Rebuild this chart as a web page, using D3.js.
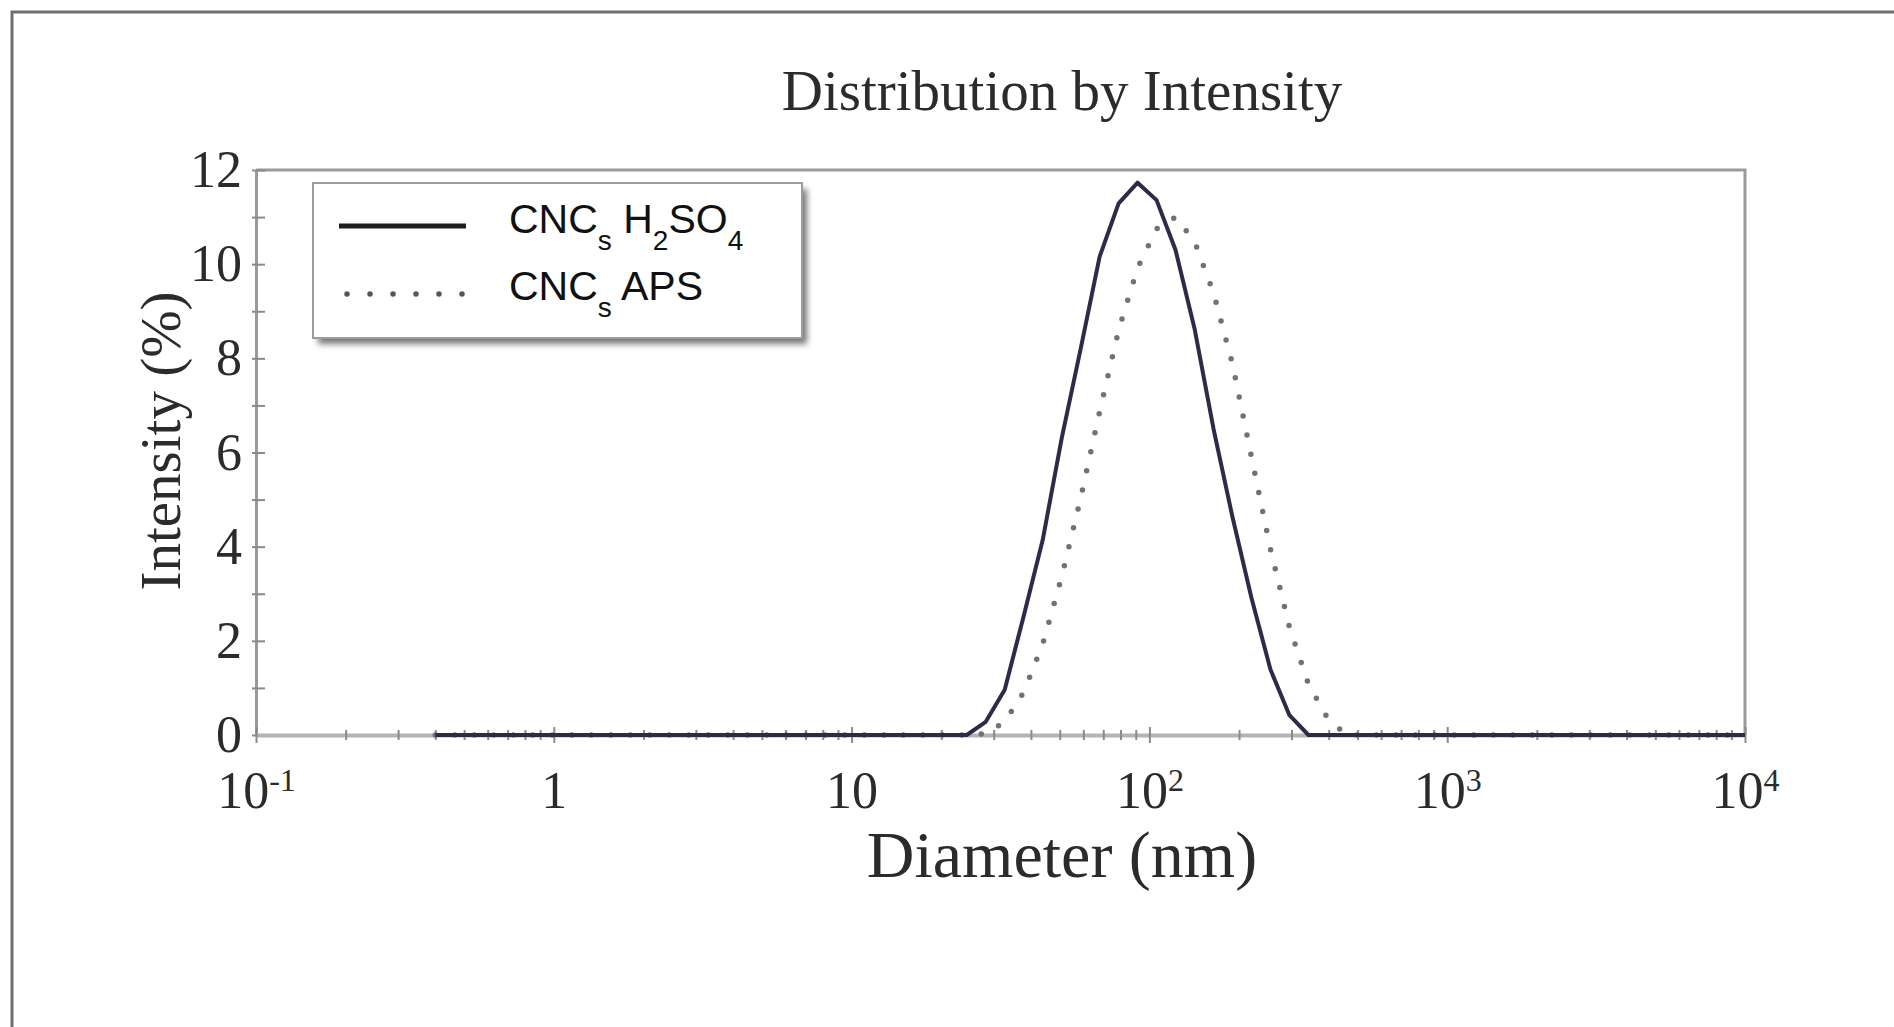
<!DOCTYPE html>
<html>
<head>
<meta charset="utf-8">
<script src="https://cdn.jsdelivr.net/npm/d3@7"></script>
<style>
  body { margin: 0; background: #fff; }
</style>
</head>
<body>
<div id="chart"></div>
<script>
// size distribution by intensity (DLS) for two CNC samples

// size classes of the instrument (nm)
const sizeClasses = [0.4, 0.4632, 0.5365, 0.6213, 0.7195, 0.8332, 0.9649, 1.117, 1.294, 1.499,
  1.736, 2.010, 2.328, 2.696, 3.122, 3.615, 4.187, 4.849, 5.615, 6.503,
  7.531, 8.721, 10.10, 11.70, 13.54, 15.69, 18.17, 21.04, 24.36, 28.21,
  32.67, 37.84, 43.82, 50.75, 58.77, 68.06, 78.82, 91.28, 105.7, 122.4,
  141.8, 164.2, 190.1, 220.2, 255.0, 295.3, 342.0, 396.1, 458.7, 531.2,
  615.1, 712.4, 825.0, 955.4, 1106, 1281, 1484, 1718, 1990, 2305,
  2669, 3091, 3580, 4145, 4801, 5560, 6439, 7456, 8635, 10000];

// intensity (%)
const intensityH2SO4 = [0, 0, 0, 0, 0, 0, 0, 0, 0, 0,
  0, 0, 0, 0, 0, 0, 0, 0, 0, 0,
  0, 0, 0, 0, 0, 0, 0, 0, 0, 0.28,
  0.96, 2.53, 4.14, 6.30, 8.20, 10.16, 11.29, 11.73, 11.36, 10.30,
  8.63, 6.50, 4.63, 2.91, 1.39, 0.42, 0, 0, 0, 0,
  0, 0, 0, 0, 0, 0, 0, 0, 0, 0,
  0, 0, 0, 0, 0, 0, 0, 0, 0, 0];

const intensityAPS = [0, 0, 0, 0, 0, 0, 0, 0, 0, 0,
  0, 0, 0, 0, 0, 0, 0, 0, 0, 0,
  0, 0, 0, 0, 0, 0, 0, 0, 0, 0.03,
  0.28, 0.91, 1.93, 3.36, 5.03, 6.87, 8.60, 9.92, 10.75, 11.00,
  10.48, 9.39, 7.88, 5.90, 3.95, 2.29, 1.08, 0.36, 0, 0,
  0, 0, 0, 0, 0, 0, 0, 0, 0, 0,
  0, 0, 0, 0, 0, 0, 0, 0, 0, 0];

// axis ticks
const xTickValues = [0.1, 1, 10, 100, 1000, 10000];
const xTickBase = ["10", "1", "10", "10", "10", "10"];
const xTickExp = ["-1", "", "", "2", "3", "4"];
const yTickValues = [0, 1, 2, 3, 4, 5, 6, 7, 8, 9, 10, 11, 12];

// legend labels, split in [text, subscript?]
const legendH2SO4 = [["CNC", false], ["s", true], [" H", false], ["2", true], ["SO", false], ["4", true]];
const legendAPS = [["CNC", false], ["s", true], [" APS", false]];

// sizes
const W = 1894, H = 1027;
const plot = {left: 256, right: 1745, top: 170, bottom: 735};
const serif = "'Liberation Serif', 'Times New Roman', serif";
const sans = "'Liberation Sans', Arial, sans-serif";
const gridGrey = "#9a9a9a";
const curveColor = "#2c2c48";
const dotColor = "#727272";

// scales
const x = d3.scaleLog()
  .domain([0.1, 10000])
  .range([plot.left, plot.right]);

const y = d3.scaleLinear()
  .domain([0, 12])
  .range([plot.bottom, plot.top]);

const svg = d3.select("#chart")
  .append("svg")
  .attr("width", W)
  .attr("height", H);

// blur for legend shadow
const defs = svg.append("defs");
defs.append("filter")
    .attr("id", "shadow")
    .attr("x", "-10%").attr("y", "-10%")
    .attr("width", "130%").attr("height", "140%")
  .append("feGaussianBlur")
    .attr("stdDeviation", 3);

// outer frame of the picture
svg.append("path")
  .attr("d", `M12,${H} V12 H${W}`)
  .attr("fill", "none")
  .attr("stroke", "#6e6e6e")
  .attr("stroke-width", 3);

// title
svg.append("text")
  .attr("x", 1062)
  .attr("y", 110)
  .attr("text-anchor", "middle")
  .style("font-family", serif)
  .style("font-size", "57px")
  .style("fill", "#2b2b2b")
  .text("Distribution by Intensity");

// top and right frame of the plot
svg.append("path")
  .attr("d", `M${plot.left},${y(12)} H${x(10000)} V${y(0)}`)
  .attr("fill", "none")
  .attr("stroke", gridGrey)
  .attr("stroke-width", 3);

// y axis
svg.append("g")
  .attr("class", "axis")
  .attr("transform", `translate(${plot.left},0)`)
  .call(d3.axisLeft(y).tickValues(yTickValues).tickSize(0).tickSizeOuter(0).tickPadding(14)
        .tickFormat(d => d % 2 === 0 ? d : ""))
  .call(g => g.select(".domain").attr("stroke", gridGrey).attr("stroke-width", 3))
  .call(g => g.selectAll(".tick line").attr("x1", -4).attr("x2", 9)
        .attr("stroke", "#8a8a8a").attr("stroke-width", 2))
  .call(g => g.selectAll(".tick text")
        .style("font-family", serif).style("font-size", "52px").style("fill", "#2b2b2b"));

// x axis: line and minor ticks
svg.append("g")
  .attr("class", "axis")
  .attr("transform", `translate(0,${plot.bottom})`)
  .call(d3.axisBottom(x).tickValues(x.ticks()).tickSize(0).tickSizeOuter(0).tickFormat(""))
  .call(g => g.select(".domain").attr("stroke", "#b4b4b4").attr("stroke-width", 4))
  .call(g => g.selectAll(".tick line")
        .attr("y1", d => xTickValues.includes(d) ? -8 : -5)
        .attr("y2", d => xTickValues.includes(d) ? 8 : 5)
        .attr("stroke", "#8a8a8a").attr("stroke-width", 2));

// x axis: decade labels with exponents
svg.append("g")
  .attr("class", "axis")
  .attr("transform", `translate(0,${plot.bottom})`)
  .call(d3.axisBottom(x).tickValues(xTickValues).tickSize(0).tickSizeOuter(0)
        .tickFormat((d, i) => xTickBase[i]))
  .call(g => g.select(".domain").remove())
  .call(g => g.selectAll(".tick text")
        .attr("y", 73).attr("dy", 0)
        .style("font-family", serif).style("font-size", "52px").style("fill", "#2b2b2b")
        .each(function(d, i) {
          if (xTickExp[i]) {
            d3.select(this).append("tspan")
              .attr("dy", -17)
              .style("font-size", "32px")
              .text(xTickExp[i]);
          }
        }));

// axis titles
svg.append("text")
  .attr("transform", "translate(180,441) rotate(-90)")
  .attr("text-anchor", "middle")
  .style("font-family", serif)
  .style("font-size", "57px")
  .style("fill", "#2b2b2b")
  .text("Intensity (%)");

svg.append("text")
  .attr("x", 1062)
  .attr("y", 877)
  .attr("text-anchor", "middle")
  .style("font-family", serif)
  .style("font-size", "66px")
  .style("fill", "#2b2b2b")
  .text("Diameter (nm)");

// curves
const line = d3.line()
  .x(d => x(d[0]))
  .y(d => y(d[1]));

svg.append("path")
  .datum(d3.zip(sizeClasses, intensityAPS))
  .attr("d", line)
  .attr("fill", "none")
  .attr("stroke", dotColor)
  .attr("stroke-width", 5.5)
  .attr("stroke-linecap", "round")
  .attr("stroke-dasharray", "0 19.5");

svg.append("path")
  .datum(d3.zip(sizeClasses, intensityH2SO4))
  .attr("d", line)
  .attr("fill", "none")
  .attr("stroke", curveColor)
  .attr("stroke-width", 4)
  .attr("stroke-linejoin", "round");

// legend
const legend = svg.append("g");

legend.append("rect")
  .attr("x", 318).attr("y", 189)
  .attr("width", 489).attr("height", 155)
  .attr("fill", "#777")
  .attr("filter", "url(#shadow)");

legend.append("rect")
  .attr("x", 313).attr("y", 183)
  .attr("width", 489).attr("height", 155)
  .attr("fill", "#fff")
  .attr("stroke", "#9c9c9c")
  .attr("stroke-width", 2);

legend.append("line")
  .attr("x1", 339).attr("x2", 466)
  .attr("y1", 226).attr("y2", 226)
  .attr("stroke", "#1e1e1e")
  .attr("stroke-width", 5);

legend.append("line")
  .attr("x1", 347).attr("x2", 466)
  .attr("y1", 294).attr("y2", 294)
  .attr("stroke", "#555")
  .attr("stroke-width", 5.5)
  .attr("stroke-linecap", "round")
  .attr("stroke-dasharray", "0 23");

function legendLabel(parts, yBase) {
  const t = legend.append("text")
    .attr("x", 509)
    .attr("y", yBase)
    .style("font-family", sans)
    .style("font-size", "41px")
    .style("fill", "#111");
  let shifted = false;
  parts.forEach(p => {
    const dy = p[1] ? (shifted ? 0 : 17) : (shifted ? -17 : 0);
    shifted = p[1];
    t.append("tspan")
      .attr("dy", dy)
      .style("font-size", p[1] ? "28px" : "41px")
      .text(p[0]);
  });
}

legendLabel(legendH2SO4, 233);
legendLabel(legendAPS, 300);
</script>
</body>
</html>
